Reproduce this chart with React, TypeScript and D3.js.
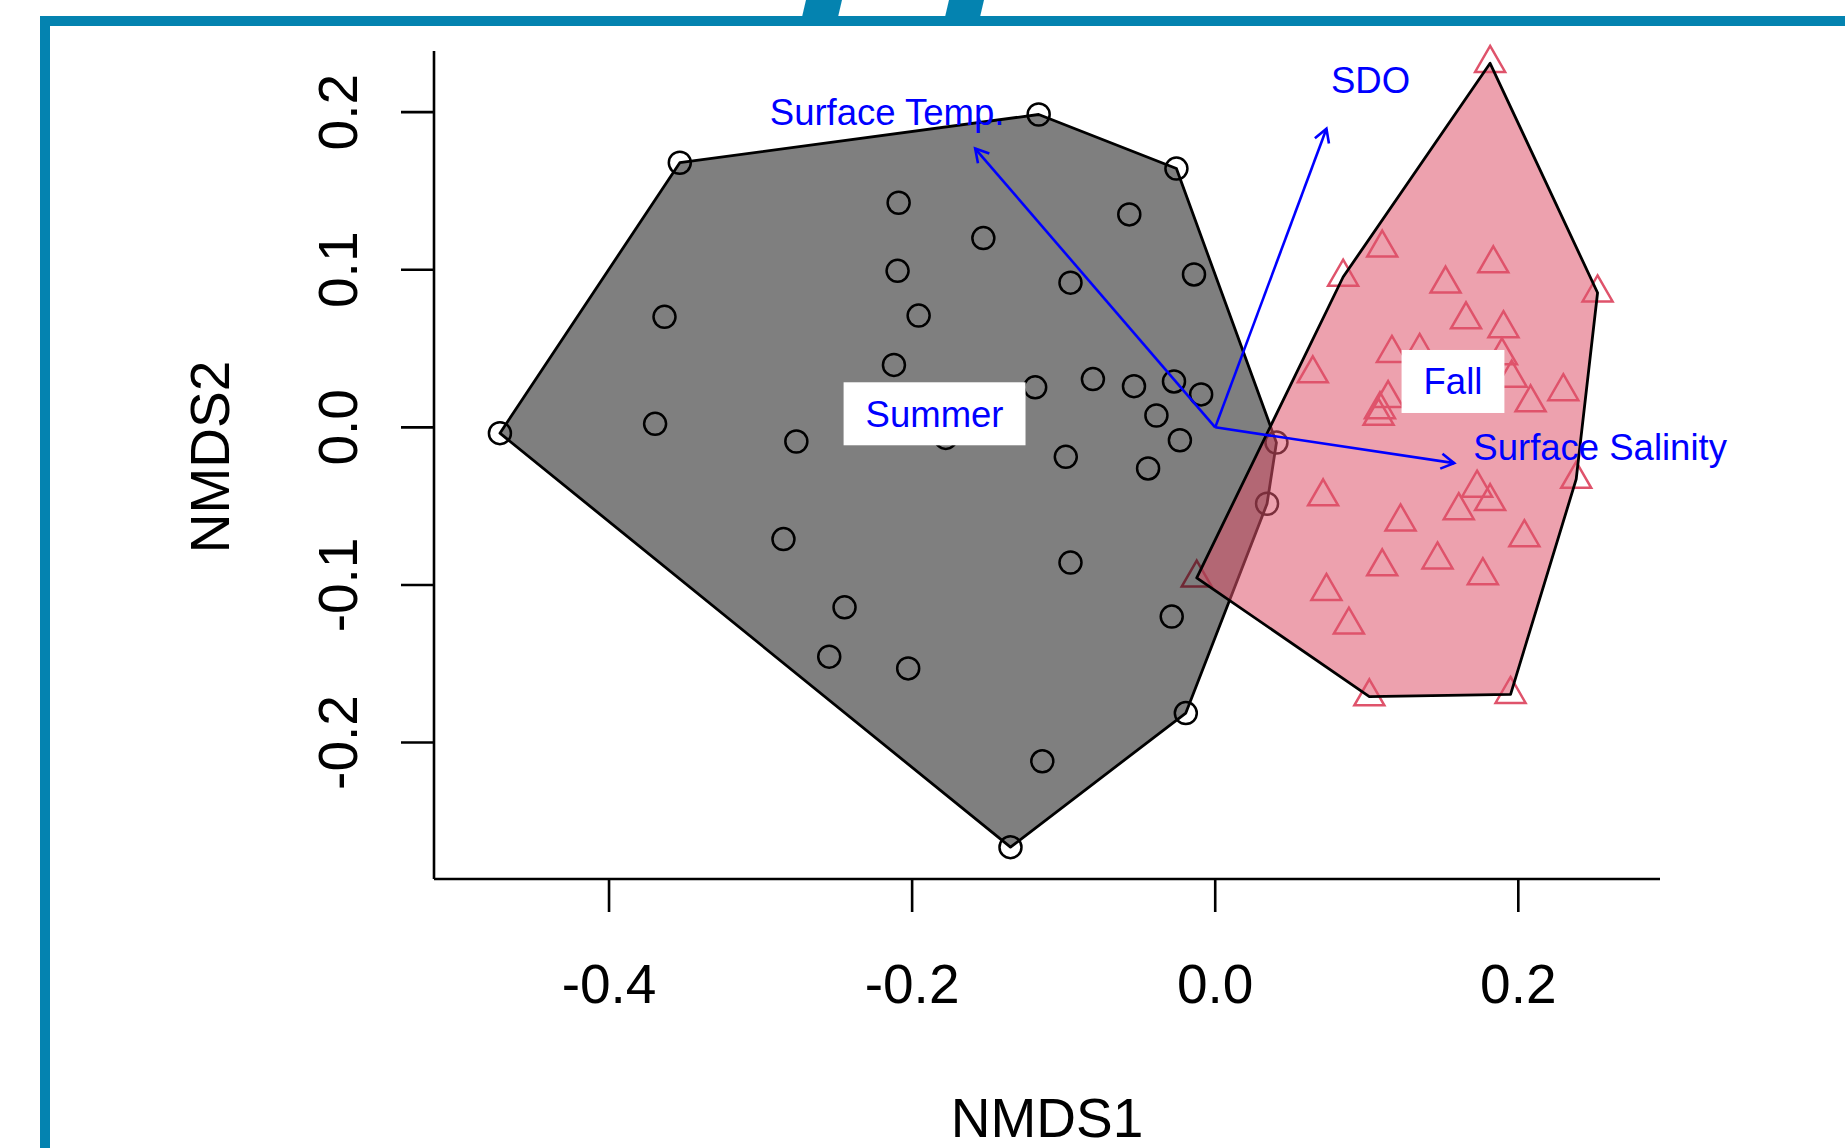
import React, { useRef, useEffect } from 'react';
import * as d3 from 'd3';

const width = 1845;
const height = 1148;
const font = 'Liberation Sans, Arial, Helvetica, sans-serif';

const xTicks = [-0.4, -0.2, 0.0, 0.2];
const yTicks = [-0.2, -0.1, 0.0, 0.1, 0.2];

// NMDS site scores, Summer (circles)
const summerX = [
    -0.4720, -0.3533, -0.1165, -0.0256, 0.0404, 0.0342, -0.0194, -0.1351,
    -0.2089, -0.1530, -0.0567, -0.2096, -0.0955, -0.0140, -0.3634, -0.1957,
    -0.2120, -0.1188, -0.0807, -0.0536, -0.0272, -0.0093, -0.0388, -0.3696,
    -0.2764, -0.1778, -0.0986, -0.0233, -0.0443, -0.2849, -0.0955, -0.2446,
    -0.0287, -0.2547, -0.2026, -0.1141
];
const summerY = [
    -0.0037, 0.1679, 0.1985, 0.1642, -0.0097, -0.0485, -0.1813, -0.2664,
    0.1425, 0.1201, 0.1351, 0.0993, 0.0918, 0.0970, 0.0701, 0.0709,
    0.0396, 0.0254, 0.0306, 0.0261, 0.0291, 0.0209, 0.0075, 0.0022,
    -0.0090, -0.0067, -0.0187, -0.0082, -0.0261, -0.0709, -0.0858, -0.1142,
    -0.1201, -0.1455, -0.1530, -0.2119
];

// NMDS site scores, Fall (triangles)
const fallX = [
    0.1814, 0.1102, 0.0844, 0.1835, 0.1520, 0.2523, 0.1655, 0.1902,
    0.1166, 0.1349, 0.0644, 0.1892, 0.1956, 0.1141, 0.1087, 0.1078,
    0.2081, 0.2297, 0.2382, 0.1728, 0.0712, 0.1814, 0.1607, 0.1223,
    0.2040, 0.1102, 0.1467, 0.1766, -0.0122, 0.0734, 0.0882, 0.1017,
    0.1949
];
const fallY = [
    0.2310, 0.1139, 0.0954, 0.1039, 0.0910, 0.0854, 0.0683, 0.0627,
    0.0470, 0.0483, 0.0341, 0.0455, 0.0313, 0.0184, 0.0113, 0.0071,
    0.0157, 0.0227, -0.0329, -0.0385, -0.0440, -0.0470, -0.0528, -0.0599,
    -0.0699, -0.0884, -0.0840, -0.0940, -0.0955, -0.1040, -0.1254, -0.1709,
    -0.1694
];

// envfit vectors
const envVars = ['Surface Temp.', 'SDO', 'Surface Salinity'];
const envX = [-0.1584, 0.0734, 0.1577];
const envY = [0.1769, 0.1895, -0.0227];
const envLabelX = [-0.2165, 0.1025, 0.2540];
const envLabelY = [0.2003, 0.2201, -0.0127];

// group labels
const groups = ['Summer', 'Fall'];
const groupX = [-0.1852, 0.1569];
const groupY = [0.0086, 0.0291];

const x = d3.scaleLinear().domain([-0.5155, 0.2935]).range([434, 1660]);
const y = d3.scaleLinear().domain([-0.2866, 0.2388]).range([879, 51]);

const frameBlue = '#0483B0';
const fallRed = '#DF536B';
const arrowBlue = '#0000FF';

export default function App() {
    const svgRef = useRef(null);

    useEffect(() => {
        const svg = d3.select(svgRef.current);
        svg.selectAll('*').remove();

        // slide frame
        svg.append('rect').attr('x', 40).attr('y', 16).attr('width', width - 40).attr('height', 10).attr('fill', frameBlue);
        svg.append('rect').attr('x', 40).attr('y', 16).attr('width', 10).attr('height', height - 16).attr('fill', frameBlue);
        svg.append('path').attr('d', 'M806,0L842,0L838,17L802,17Z').attr('fill', frameBlue);
        svg.append('path').attr('d', 'M949,0L984,0L980,17L945,17Z').attr('fill', frameBlue);

        // axes (bty = "l")
        const axis = svg.append('g').attr('stroke', '#000').attr('stroke-width', 2.6);
        axis.append('line').attr('x1', x.range()[0]).attr('x2', x.range()[0]).attr('y1', y.range()[1]).attr('y2', y.range()[0]);
        axis.append('line').attr('x1', x.range()[0]).attr('x2', x.range()[1]).attr('y1', y.range()[0]).attr('y2', y.range()[0]);

        axis.selectAll('.xt').data(xTicks).enter().append('line')
            .attr('x1', d => x(d)).attr('x2', d => x(d))
            .attr('y1', y.range()[0]).attr('y2', y.range()[0] + 33);
        axis.selectAll('.yt').data(yTicks).enter().append('line')
            .attr('y1', d => y(d)).attr('y2', d => y(d))
            .attr('x1', x.range()[0]).attr('x2', x.range()[0] - 33);

        svg.selectAll('.xl').data(xTicks).enter().append('text')
            .attr('x', d => x(d)).attr('y', 1003)
            .attr('text-anchor', 'middle')
            .attr('font-family', font).attr('font-size', 55)
            .text(d => d.toFixed(1));
        svg.selectAll('.yl').data(yTicks).enter().append('text')
            .attr('transform', d => `translate(357,${y(d)}) rotate(-90)`)
            .attr('text-anchor', 'middle')
            .attr('font-family', font).attr('font-size', 55)
            .text(d => d.toFixed(1));

        svg.append('text')
            .attr('x', (x.range()[0] + x.range()[1]) / 2).attr('y', 1137)
            .attr('text-anchor', 'middle')
            .attr('font-family', font).attr('font-size', 55)
            .text('NMDS1');
        svg.append('text')
            .attr('transform', 'translate(229,457) rotate(-90)')
            .attr('text-anchor', 'middle')
            .attr('font-family', font).attr('font-size', 55)
            .text('NMDS2');

        const summer = summerX.map((v, i) => [x(v), y(summerY[i])]);
        const fall = fallX.map((v, i) => [x(v), y(fallY[i])]);

        // points first, hulls drawn over them
        svg.selectAll('.pt-summer').data(summer).enter().append('circle')
            .attr('cx', d => d[0]).attr('cy', d => d[1]).attr('r', 11)
            .attr('fill', 'none').attr('stroke', '#000').attr('stroke-width', 2.5);

        const tri = d3.symbol(d3.symbolTriangle, 390);
        svg.selectAll('.pt-fall').data(fall).enter().append('path')
            .attr('d', tri)
            .attr('transform', d => `translate(${d[0]},${d[1]})`)
            .attr('fill', 'none').attr('stroke', fallRed).attr('stroke-width', 2.5);

        const hullPath = pts => 'M' + d3.polygonHull(pts).join('L') + 'Z';
        svg.append('path').attr('d', hullPath(summer))
            .attr('fill', '#000').attr('fill-opacity', 0.5)
            .attr('stroke', '#000').attr('stroke-width', 2.8).attr('stroke-linejoin', 'round');
        svg.append('path').attr('d', hullPath(fall))
            .attr('fill', fallRed).attr('fill-opacity', 0.55)
            .attr('stroke', '#000').attr('stroke-width', 2.8).attr('stroke-linejoin', 'round');

        // envfit arrows
        const arrows = svg.append('g').attr('stroke', arrowBlue).attr('stroke-width', 2.6).attr('fill', 'none');
        envVars.forEach((name, i) => {
            const x0 = x(0), y0 = y(0), x1 = x(envX[i]), y1 = y(envY[i]);
            const a = Math.atan2(y1 - y0, x1 - x0);
            const len = 15, spread = Math.PI / 6;
            arrows.append('line').attr('x1', x0).attr('y1', y0).attr('x2', x1).attr('y2', y1);
            arrows.append('path').attr('d',
                `M${x1 - len * Math.cos(a - spread)},${y1 - len * Math.sin(a - spread)}L${x1},${y1}L${x1 - len * Math.cos(a + spread)},${y1 - len * Math.sin(a + spread)}`);
            svg.append('text')
                .attr('x', x(envLabelX[i])).attr('y', y(envLabelY[i]) + 13)
                .attr('text-anchor', 'middle')
                .attr('font-family', font).attr('font-size', 36.5)
                .attr('fill', arrowBlue)
                .text(name);
        });

        // group labels in white boxes
        groups.forEach((name, i) => {
            const g = svg.append('g');
            const rect = g.append('rect').attr('fill', '#fff');
            const t = g.append('text')
                .attr('x', x(groupX[i])).attr('y', y(groupY[i]) + 13)
                .attr('text-anchor', 'middle')
                .attr('font-family', font).attr('font-size', 36.5)
                .attr('fill', arrowBlue)
                .text(name);
            const w = t.node().getComputedTextLength() + 44;
            const h = 63;
            rect.attr('x', x(groupX[i]) - w / 2).attr('y', y(groupY[i]) - h / 2)
                .attr('width', w).attr('height', h);
        });
    }, []);

    return (
        <svg ref={svgRef} width={width} height={height}
            style={{ position: 'absolute', left: 0, top: 0, display: 'block', background: '#fff' }} />
    );
}
